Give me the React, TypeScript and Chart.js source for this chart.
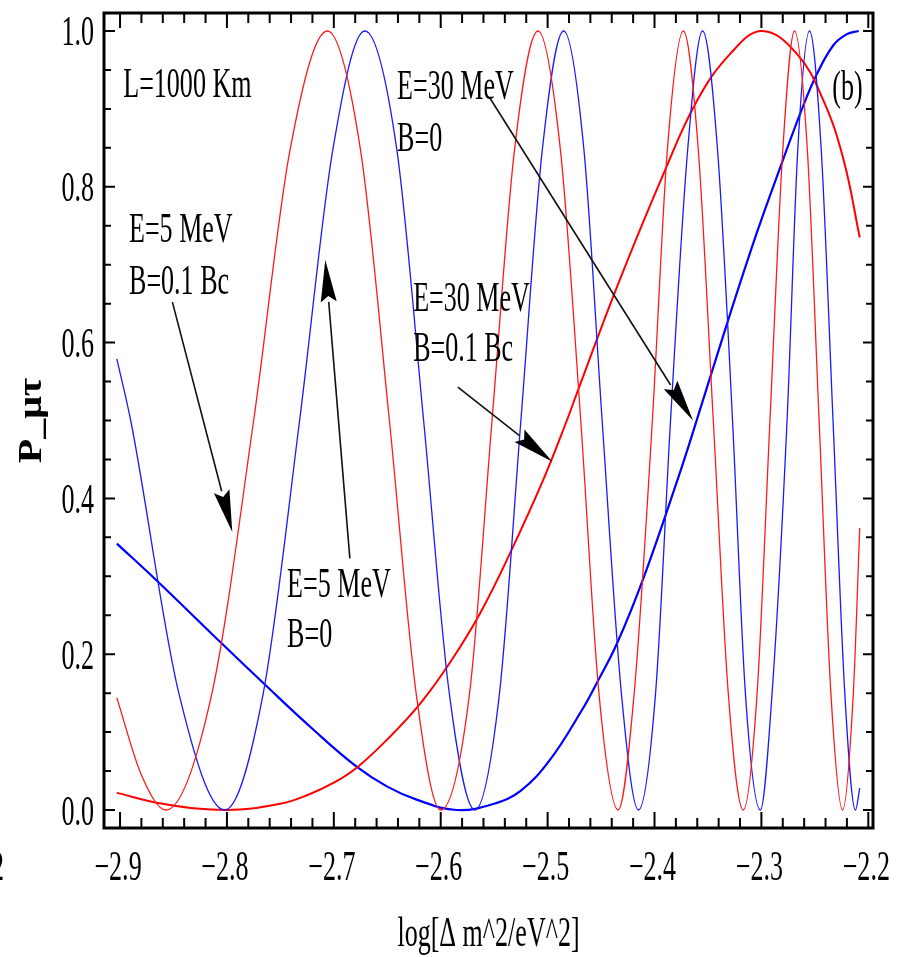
import React, { useEffect, useRef } from "react";
import { Chart, registerables } from "chart.js";

Chart.register(...registerables);

// ---- Data ----
// E=5 MeV, B=0.1 Bc (red, fast oscillation)
const redFastX = [-2.903, -2.88, -2.857, -2.814, -2.775, -2.741, -2.706, -2.675, -2.648, -2.623, -2.6, -2.573, -2.552, -2.531, -2.509, -2.488, -2.469, -2.452, -2.434, -2.419, -2.402, -2.388, -2.373, -2.359, -2.345, -2.331, -2.317, -2.304, -2.292, -2.28, -2.269, -2.257, -2.246, -2.235, -2.224, -2.214, -2.208];
const redFastY = [0.144, 0.045, 0.0, 0.15, 0.5, 0.847, 1.0, 0.847, 0.5, 0.15, 0.0, 0.15, 0.5, 0.847, 1.0, 0.847, 0.5, 0.15, 0.0, 0.15, 0.5, 0.847, 1.0, 0.847, 0.5, 0.15, 0.0, 0.15, 0.5, 0.847, 1.0, 0.847, 0.5, 0.15, 0.0, 0.15, 0.362];

// E=5 MeV, B=0 (blue, fast oscillation)
const blueFastX = [-2.903, -2.89, -2.845, -2.802, -2.766, -2.732, -2.701, -2.671, -2.641, -2.616, -2.592, -2.568, -2.545, -2.525, -2.505, -2.485, -2.466, -2.449, -2.431, -2.415, -2.399, -2.385, -2.369, -2.355, -2.341, -2.327, -2.315, -2.301, -2.29, -2.276, -2.266, -2.255, -2.244, -2.233, -2.222, -2.212, -2.208];
const blueFastY = [0.579, 0.5, 0.15, 0.0, 0.15, 0.5, 0.847, 1.0, 0.847, 0.5, 0.15, 0.0, 0.15, 0.5, 0.847, 1.0, 0.847, 0.5, 0.15, 0.0, 0.15, 0.5, 0.847, 1.0, 0.847, 0.5, 0.15, 0.0, 0.15, 0.5, 0.847, 1.0, 0.847, 0.5, 0.15, 0.0, 0.028];

// E=30 MeV, B=0.1 Bc (red, slow)
const redSlowX = [-2.903, -2.86, -2.8, -2.75, -2.725, -2.7, -2.678, -2.649, -2.619, -2.591, -2.563, -2.535, -2.504, -2.482, -2.4726, -2.435, -2.3915, -2.36, -2.329, -2.2995, -2.267, -2.242, -2.223, -2.208];
const redSlowY = [0.022, 0.008, 0.0, 0.008, 0.019, 0.035, 0.055, 0.092, 0.137, 0.19, 0.253, 0.33, 0.424, 0.5, 0.535, 0.672, 0.817, 0.911, 0.971, 1.0, 0.971, 0.911, 0.834, 0.735];

// E=30 MeV, B=0 (blue, slow)
const blueSlowX = [-2.903, -2.866, -2.805, -2.766, -2.719, -2.679, -2.65, -2.622, -2.585, -2.55, -2.525, -2.498, -2.468, -2.454, -2.435, -2.41, -2.377, -2.364, -2.332, -2.304, -2.281, -2.262, -2.248, -2.2325, -2.22, -2.209];
const blueSlowY = [0.342, 0.295, 0.214, 0.163, 0.103, 0.056, 0.03, 0.013, 0.0, 0.008, 0.025, 0.064, 0.128, 0.163, 0.214, 0.299, 0.43, 0.485, 0.625, 0.742, 0.83, 0.9, 0.945, 0.982, 0.996, 1.0];

// ---- Axes ----
const xMajorTicks = [-2.9, -2.8, -2.7, -2.6, -2.5, -2.4, -2.3, -2.2];
const xTickLabels = ["\u22122.9", "\u22122.8", "\u22122.7", "\u22122.6", "\u22122.5", "\u22122.4", "\u22122.3", "\u22122.2"];
const xMinorTicks = [-2.88, -2.86, -2.84, -2.82, -2.78, -2.76, -2.74, -2.72, -2.68, -2.66, -2.64, -2.62, -2.58, -2.56, -2.54, -2.52, -2.48, -2.46, -2.44, -2.42, -2.38, -2.36, -2.34, -2.32, -2.28, -2.26, -2.24, -2.22];
const yMajorTicks = [0, 0.2, 0.4, 0.6, 0.8, 1.0];
const yTickLabels = ["0.0", "0.2", "0.4", "0.6", "0.8", "1.0"];
const yMinorTicks = [0.05, 0.1, 0.15, 0.25, 0.3, 0.35, 0.45, 0.5, 0.55, 0.65, 0.7, 0.75, 0.85, 0.9, 0.95];
const xTitle = "log[\u0394 m^2/eV^2]";
const yTitle = "P_\u03bc\u03c4";

// ---- Annotations (data coordinates) ----
const noteTexts = ["L=1000 Km", "E=5 MeV", "B=0.1 Bc", "E=5 MeV", "B=0", "E=30 MeV", "B=0", "E=30 MeV", "B=0.1 Bc", "(b)"];
const noteX = [-2.897, -2.8916, -2.8916, -2.7437, -2.7437, -2.6408, -2.6408, -2.6258, -2.6258, -2.2337];
const noteY = [0.915, 0.7292, 0.6624, 0.2734, 0.2092, 0.9127, 0.846, 0.6406, 0.5764, 0.911];

const arrowFromX = [-2.851, -2.685, -2.554, -2.584];
const arrowFromY = [0.652, 0.323, 0.914, 0.543];
const arrowToX = [-2.795, -2.708, -2.364, -2.4955];
const arrowToY = [0.357, 0.706, 0.5, 0.447];

const FONT = "42px 'Liberation Serif', 'Times New Roman', serif";
const SX = 0.62;

function drawText(ctx: CanvasRenderingContext2D, text: string, x: number, y: number, align: CanvasTextAlign, font = FONT, sx = SX) {
  ctx.save();
  ctx.translate(x, y);
  ctx.scale(sx, 1);
  ctx.font = font;
  ctx.textAlign = align;
  ctx.textBaseline = "alphabetic";
  ctx.fillStyle = "#000";
  ctx.fillText(text, 0, 0);
  ctx.restore();
}

const overlayPlugin = {
  id: "overlay",
  afterDatasetsDraw(chart: any) {
    const ctx: CanvasRenderingContext2D = chart.ctx;
    const a = chart.chartArea;
    const xs = chart.scales.x;
    const ys = chart.scales.y;
    ctx.save();

    // ticks (inward, all four sides)
    ctx.strokeStyle = "#000";
    ctx.lineWidth = 2;
    ctx.beginPath();
    xMajorTicks.forEach((v) => {
      const p = xs.getPixelForValue(v);
      ctx.moveTo(p, a.bottom); ctx.lineTo(p, a.bottom - 16);
      ctx.moveTo(p, a.top); ctx.lineTo(p, a.top + 15);
    });
    xMinorTicks.forEach((v) => {
      const p = xs.getPixelForValue(v);
      ctx.moveTo(p, a.bottom); ctx.lineTo(p, a.bottom - 10);
      ctx.moveTo(p, a.top); ctx.lineTo(p, a.top + 10);
    });
    yMajorTicks.forEach((v) => {
      const p = ys.getPixelForValue(v);
      ctx.moveTo(a.left, p); ctx.lineTo(a.left + 11, p);
      ctx.moveTo(a.right, p); ctx.lineTo(a.right - 10, p);
    });
    yMinorTicks.forEach((v) => {
      const p = ys.getPixelForValue(v);
      ctx.moveTo(a.left, p); ctx.lineTo(a.left + 7, p);
      ctx.moveTo(a.right, p); ctx.lineTo(a.right - 7, p);
    });
    ctx.stroke();

    // frame
    ctx.lineWidth = 3;
    ctx.strokeRect(a.left, a.top, a.right - a.left, a.bottom - a.top);

    // tick labels
    xMajorTicks.forEach((v, i) => {
      drawText(ctx, xTickLabels[i], xs.getPixelForValue(v) - 2, 880, "center");
    });
    drawText(ctx, "\u22122.2", 4, 880, "right");
    yMajorTicks.forEach((v, i) => {
      drawText(ctx, yTickLabels[i], 94, ys.getPixelForValue(v) + 14.5, "right");
    });

    // axis titles
    drawText(ctx, xTitle, (a.left + a.right) / 2, 946, "center");
    ctx.save();
    ctx.translate(32, (a.top + a.bottom) / 2);
    ctx.rotate(-Math.PI / 2);
    ctx.scale(1, 0.85);
    ctx.font = "bold 40px 'Liberation Serif', serif";
    ctx.textAlign = "center";
    ctx.textBaseline = "middle";
    ctx.fillStyle = "#000";
    ctx.fillText(yTitle, 0, 0);
    ctx.restore();

    // annotation texts
    noteTexts.forEach((t, i) => {
      drawText(ctx, t, xs.getPixelForValue(noteX[i]), ys.getPixelForValue(noteY[i]), "left");
    });

    // arrows
    arrowFromX.forEach((_, i) => {
      const x0 = xs.getPixelForValue(arrowFromX[i]);
      const y0 = ys.getPixelForValue(arrowFromY[i]);
      const x1 = xs.getPixelForValue(arrowToX[i]);
      const y1 = ys.getPixelForValue(arrowToY[i]);
      const dx = x1 - x0, dy = y1 - y0;
      const len = Math.hypot(dx, dy);
      const ux = dx / len, uy = dy / len;
      const headL = 42, headW = 8;
      const bx = x1 - ux * headL, by = y1 - uy * headL;
      ctx.strokeStyle = "#111";
      ctx.lineWidth = 1.6;
      ctx.beginPath();
      ctx.moveTo(x0, y0);
      ctx.lineTo(bx, by);
      ctx.stroke();
      ctx.fillStyle = "#000";
      ctx.beginPath();
      ctx.moveTo(x1, y1);
      ctx.lineTo(bx - uy * headW, by + ux * headW);
      ctx.lineTo(bx + ux * 6, by + uy * 6);
      ctx.lineTo(bx + uy * headW, by - ux * headW);
      ctx.closePath();
      ctx.fill();
    });

    ctx.restore();
  },
};

function toPoints(xs: number[], ys: number[]) {
  return xs.map((x, i) => ({ x, y: ys[i] }));
}

export default function App() {
  const canvasRef = useRef<HTMLCanvasElement | null>(null);

  useEffect(() => {
    const canvas = canvasRef.current;
    if (!canvas) return;
    const fast = {
      pointRadius: 0,
      pointHoverRadius: 0,
      fill: false,
      cubicInterpolationMode: "monotone" as const,
    };
    const slow = {
      pointRadius: 0,
      pointHoverRadius: 0,
      fill: false,
      cubicInterpolationMode: "default" as const,
      tension: 0.4,
    };
    const chart = new Chart(canvas, {
      type: "line",
      data: {
        datasets: [
          { ...fast, label: "E=5 MeV, B=0.1 Bc", data: toPoints(redFastX, redFastY), borderColor: "#ff1a1a", borderWidth: 1.3 },
          { ...fast, label: "E=5 MeV, B=0", data: toPoints(blueFastX, blueFastY), borderColor: "#1a1aff", borderWidth: 1.3 },
          { ...slow, label: "E=30 MeV, B=0.1 Bc", data: toPoints(redSlowX, redSlowY), borderColor: "#ff0000", borderWidth: 2 },
          { ...slow, label: "E=30 MeV, B=0", data: toPoints(blueSlowX, blueSlowY), borderColor: "#0000ff", borderWidth: 2.2 },
        ],
      },
      options: {
        animation: false,
        responsive: false,
        devicePixelRatio: 1,
        layout: { padding: { left: 104, top: 13, right: 36, bottom: 129 } },
        plugins: { legend: { display: false }, tooltip: { enabled: false } },
        events: [],
        scales: {
          x: { type: "linear", min: -2.915, max: -2.1956, display: false },
          y: { type: "linear", min: -0.0231, max: 1.0231, display: false },
        },
      },
      plugins: [overlayPlugin],
    });
    return () => chart.destroy();
  }, []);

  return (
    <div style={{ position: "absolute", left: 0, top: 0, width: 909, height: 957, background: "#fff" }}>
      <canvas ref={canvasRef} width={909} height={957} style={{ display: "block" }} />
    </div>
  );
}
